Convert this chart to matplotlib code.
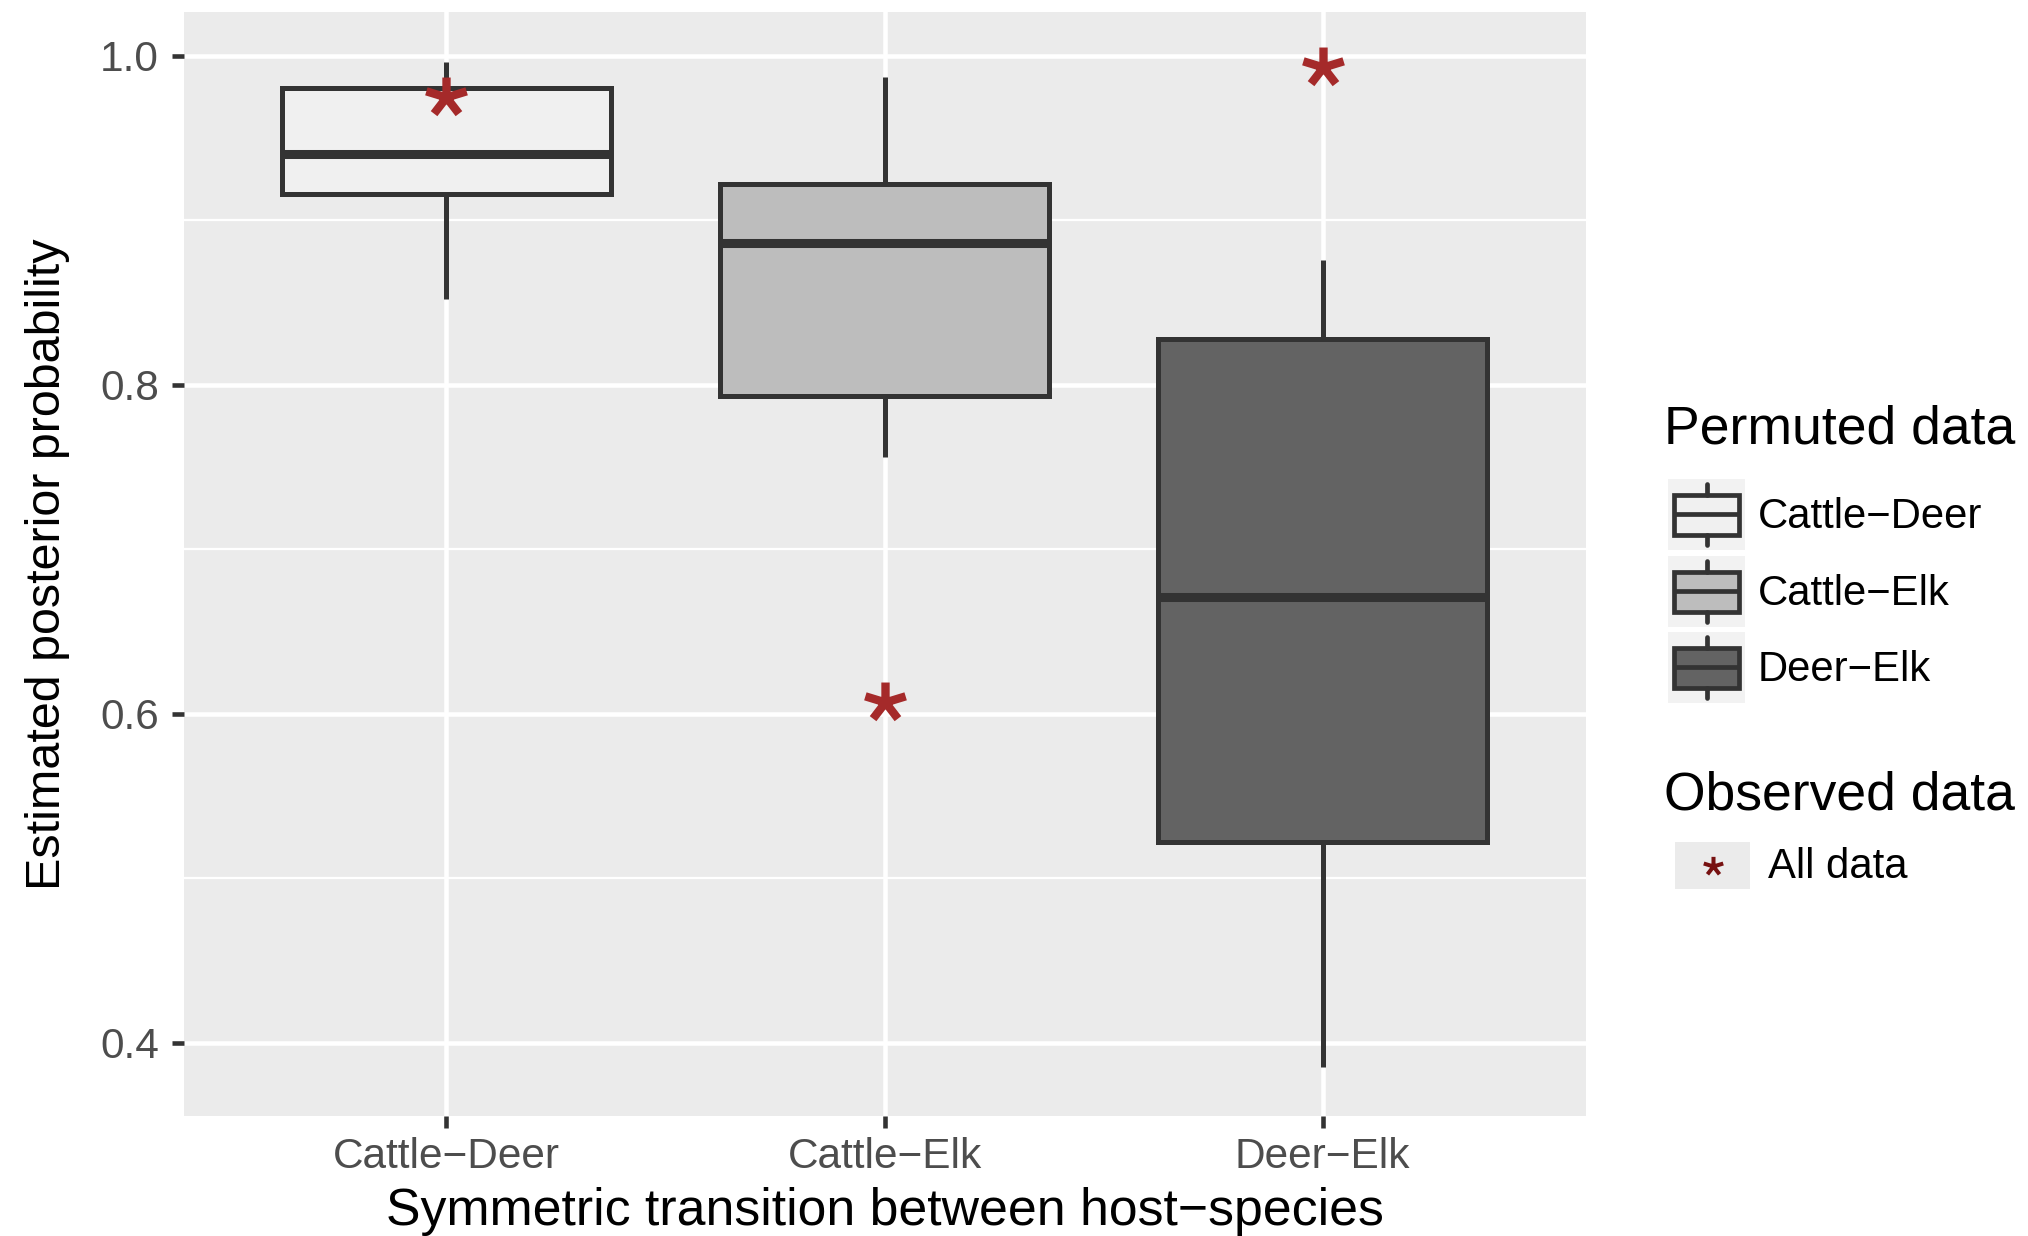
import numpy as np
import matplotlib
matplotlib.use("Agg")
import matplotlib.pyplot as plt
from matplotlib.path import Path
from matplotlib.patches import Rectangle

# ---------------- data ----------------
categories = ["Cattle\u2212Deer", "Cattle\u2212Elk", "Deer\u2212Elk"]
whisker_low = [0.852, 0.756, 0.385]
q1 = [0.916, 0.793, 0.522]
median = [0.940, 0.886, 0.671]
q3 = [0.980, 0.922, 0.828]
whisker_high = [0.996, 0.987, 0.876]
observed = [0.975, 0.607, 0.993]
box_fills = ["#F0F0F0", "#BDBDBD", "#636363"]
y_major = [0.4, 0.6, 0.8, 1.0]
y_minor = [0.5, 0.7, 0.9]
y_tick_labels = ["0.4", "0.6", "0.8", "1.0"]

plt.rcParams["font.family"] = ["Liberation Sans", "DejaVu Sans"]

W, H = 2028, 1236
fig = plt.figure(figsize=(W / 100, H / 100), dpi=100)

# axes placement (pixels)
ax_l, ax_r, ax_t, ax_b = 183.5, 1585.5, 12.0, 1115.7
ax = fig.add_axes([ax_l / W, (H - ax_b) / H, (ax_r - ax_l) / W, (ax_b - ax_t) / H])
ax.set_facecolor("#EBEBEB")
for s in ax.spines.values():
    s.set_visible(False)

edge = "#333333"
lw_box = 3.6
pos = np.arange(len(categories))
stats = []
for c, lo, a, m, b, hi in zip(categories, whisker_low, q1, median, q3, whisker_high):
    stats.append(dict(label=c, whislo=lo, q1=a, med=m, q3=b, whishi=hi, fliers=[]))

bp = ax.bxp(stats, positions=pos, widths=0.75, patch_artist=True,
            showcaps=False, showfliers=False,
            boxprops=dict(edgecolor=edge, linewidth=lw_box),
            whiskerprops=dict(color=edge, linewidth=lw_box, solid_capstyle="butt"),
            medianprops=dict(color=edge, linewidth=6.5, solid_capstyle="butt"))
for patch, fc in zip(bp["boxes"], box_fills):
    patch.set_facecolor(fc)
    patch.set_zorder(2)
for ln in bp["whiskers"] + bp["medians"]:
    ln.set_zorder(3)

# star marker (5 rays, like a text asterisk)
ang = np.deg2rad([90, 18, -54, -126, 162])
verts, codes = [], []
for a_ in ang:
    verts += [(0, 0), (1.06 * np.cos(a_), np.sin(a_))]
    codes += [Path.MOVETO, Path.LINETO]
star = Path(verts, codes)

star_col = "#A52A2A"
ax.plot(pos, observed, linestyle="none", marker=star, markersize=29,
        markerfacecolor="none", markeredgecolor=star_col, markeredgewidth=6.0,
        zorder=5)

ax.set_xlim(-0.6, 2.6)
ax.set_ylim(0.3556, 1.0265)
ax.set_xticks(pos)
ax.set_xticklabels(categories)
ax.set_yticks(y_major)
ax.set_yticklabels(y_tick_labels)
ax.set_yticks(y_minor, minor=True)
ax.set_axisbelow(True)
ax.grid(which="major", color="white", linewidth=3.3)
ax.grid(which="minor", axis="y", color="white", linewidth=1.65)
ax.tick_params(axis="both", which="major", length=8.4, width=3.3, color=edge,
               labelsize=30.5, labelcolor="#4D4D4D")
ax.tick_params(axis="x", which="major", pad=7.2)
ax.tick_params(axis="y", which="major", pad=9.2)
ax.tick_params(which="minor", length=0)

ax.set_xlabel("Symmetric transition between host\u2212species", fontsize=37.3,
              color="black", va="baseline")
ax.xaxis.set_label_coords(0.5, (ax_b - 1225) / (ax_b - ax_t))
ax.set_ylabel("Estimated posterior probability", fontsize=34.9, color="black",
              va="baseline")
ax.yaxis.set_label_coords((60 - ax_l) / (ax_r - ax_l), 0.5)

# ---------------- legends (pixel overlay) ----------------
lax = fig.add_axes([0, 0, 1, 1])
lax.set_xlim(0, W)
lax.set_ylim(H, 0)
lax.axis("off")
lax.patch.set_visible(False)

lax.text(1664, 443, "Permuted data", fontsize=38.5, va="baseline", ha="left", color="black")
key_tops = [478.5, 555.5, 631.5]
lw_key = 3.4
for top, cat, fc in zip(key_tops, categories, box_fills):
    lax.add_patch(Rectangle((1668, top), 77, 71, facecolor="#F2F2F2", edgecolor="none"))
    cx, cy = 1706.5, top + 35.5
    lax.plot([cx, cx], [top + 5, top + 16], color=edge, lw=lw_key, solid_capstyle="round")
    lax.plot([cx, cx], [top + 56, top + 66], color=edge, lw=lw_key, solid_capstyle="round")
    lax.add_patch(Rectangle((1674, top + 16), 65, 40, facecolor=fc, edgecolor=edge, lw=lw_key))
    lax.plot([1674, 1739], [cy, cy], color=edge, lw=lw_key, solid_capstyle="butt")
    lax.text(1758, cy + 14, cat, fontsize=30.2, va="baseline", ha="left", color="black")

lax.text(1664, 809, "Observed data", fontsize=38.5, va="baseline", ha="left", color="black")
lax.add_patch(Rectangle((1675, 842), 75, 47, facecolor="#EBEBEB", edgecolor="none"))
lax.plot([1712.5], [865.5], linestyle="none", marker=star, markersize=14,
         markerfacecolor="none", markeredgecolor="#771111", markeredgewidth=2.9)
lax.text(1768, 878, "All data", fontsize=30.2, va="baseline", ha="left", color="black")

fig.savefig("out.png", dpi=100)
